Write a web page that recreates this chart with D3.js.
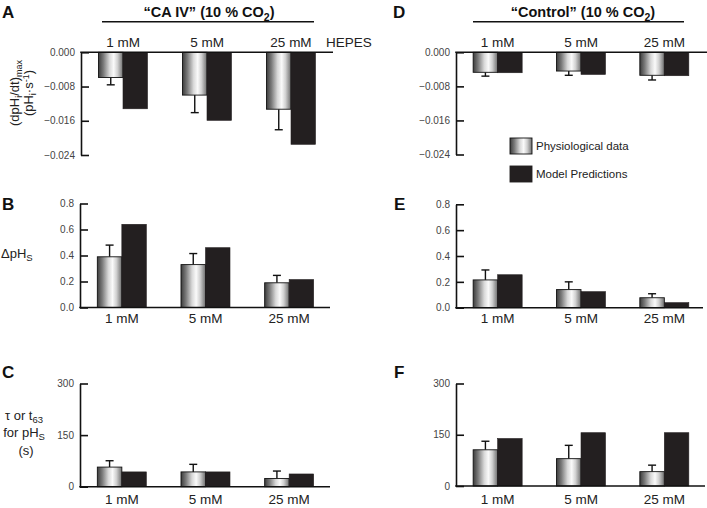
<!DOCTYPE html>
<html><head><meta charset="utf-8">
<script src="https://cdn.jsdelivr.net/npm/d3@7"></script>
<style>
html,body{margin:0;padding:0;background:#fff;}
svg{display:block;font-family:"Liberation Sans",Arial,Helvetica,sans-serif;}
</style></head>
<body><svg id="chart" width="707" height="508"></svg>
<script>
// ---- data ----
const categories = ["1 mM", "5 mM", "25 mM"];
const seriesNames = ["Physiological data", "Model Predictions"];
// Panel A: CA IV, (dpHi/dt)max
const A_phys = [-0.0059, -0.0100, -0.0133];
const A_physErr = [0.0017, 0.0041, 0.0048];
const A_model = [-0.0132, -0.0159, -0.0215];
// Panel D: Control, (dpHi/dt)max
const D_phys = [-0.0047, -0.0044, -0.0054];
const D_physErr = [0.0009, 0.0010, 0.0011];
const D_model = [-0.0048, -0.0052, -0.0055];
// Panel B: CA IV, ΔpHS
const B_phys = [0.39, 0.33, 0.19];
const B_physErr = [0.09, 0.085, 0.057];
const B_model = [0.64, 0.46, 0.215];
// Panel E: Control, ΔpHS
const E_phys = [0.215, 0.14, 0.077];
const E_physErr = [0.077, 0.06, 0.031];
const E_model = [0.255, 0.124, 0.039];
// Panel C: CA IV, tau
const C_phys = [57, 43, 24];
const C_physErr = [18.5, 22, 21.5];
const C_model = [43, 43, 37];
// Panel F: Control, tau
const F_phys = [106, 80, 42];
const F_physErr = [25, 39, 19];
const F_model = [139, 156, 156];
// ticks
const ticksDpH = [0, -0.008, -0.016, -0.024];
const ticksDelta = [0, 0.2, 0.4, 0.6, 0.8];
const ticksTau = [0, 150, 300];

const svg = d3.select("#chart");
const defs = svg.append("defs");
const grad = defs.append("linearGradient").attr("id","cyl").attr("x1","0%").attr("x2","100%").attr("y1","0%").attr("y2","0%");
[["0%","#3c3c3c"],["20%","#7a7a7a"],["45%","#d8d8d8"],["62%","#fafafa"],["78%","#d0d0d0"],["100%","#6e6e6e"]]
  .forEach(([o,c])=>grad.append("stop").attr("offset",o).attr("stop-color",c));

const BLACK = "#231f20";
const LABEL_SIZE = "13.5px";

function panel(opts){
  const {x0, x1, yTop, yBottom, domain, ticks, fmt, phys, err, model, negative, labelY} = opts;
  const g = svg.append("g");
  const x = d3.scaleBand().domain(categories).range([x0, x1]).padding(0);
  const sub = d3.scaleBand().domain(seriesNames).range([-24.5, 24.5]).padding(0);
  const y = d3.scaleLinear().domain(domain).range([yBottom, yTop]);
  const zeroY = y(0);
  const data = categories.map((c,i)=>({c, phys:phys[i], err:err[i], model:model[i]}));
  data.forEach(d=>{
    const cx = x(d.c) + x.bandwidth()/2;
    const px = cx + sub(seriesNames[0]);
    const pc = px + sub.bandwidth()/2;
    const py = y(d.phys);
    const ey = y(d.phys + (negative ? -d.err : d.err));
    g.append("line").attr("x1",pc).attr("x2",pc).attr("y1",py).attr("y2",ey).attr("stroke","#111").attr("stroke-width",1.4);
    g.append("line").attr("x1",pc-4).attr("x2",pc+4).attr("y1",ey).attr("y2",ey).attr("stroke","#111").attr("stroke-width",1.4);
    g.append("rect").attr("x",px).attr("width",sub.bandwidth())
      .attr("y",Math.min(py,zeroY)).attr("height",Math.abs(py-zeroY))
      .attr("fill","url(#cyl)").attr("stroke","#111").attr("stroke-width",0.9);
    const my = y(d.model);
    g.append("rect").attr("x",cx+sub(seriesNames[1])).attr("width",sub.bandwidth())
      .attr("y",Math.min(my,zeroY)).attr("height",Math.abs(my-zeroY))
      .attr("fill",BLACK).attr("stroke",BLACK).attr("stroke-width",0.6);
  });
  const ax = d3.axisLeft(y).tickValues(ticks).tickFormat(fmt).tickSizeInner(-8).tickSizeOuter(0).tickPadding(6);
  const ag = g.append("g").attr("transform",`translate(${x0},0)`).call(ax);
  ag.select(".domain").attr("stroke","#111").attr("stroke-width",1.6);
  ag.selectAll(".tick line").attr("stroke","#111").attr("stroke-width",1.6);
  ag.selectAll(".tick text").attr("fill","#444").style("font-size","10px").style("font-family","'Liberation Sans',Arial,sans-serif");
  g.append("line").attr("x1",x0-0.8).attr("x2",opts.lineEnd).attr("y1",zeroY).attr("y2",zeroY).attr("stroke","#111").attr("stroke-width",1.6);
  if (labelY !== undefined){
    categories.forEach(c=>{
      g.append("text").attr("x",x(c)+x.bandwidth()/2).attr("y",labelY).attr("text-anchor","middle")
        .style("font-size",LABEL_SIZE).attr("fill","#222").text(c);
    });
  }
  return {x,y};
}

const fmtDpH = d => d===0 ? "0.000" : "\u2212" + Math.abs(d).toFixed(3);
const fmt1 = d3.format(".1f");
const fmt0 = d3.format("d");

const L = {x0:81, x1:333};
const R = {x0:456, x1:706};

panel({x0:L.x0, x1:L.x1, lineEnd:333, yTop:155, yBottom:52.3, domain:[0,-0.024], ticks:ticksDpH, fmt:fmtDpH, phys:A_phys, err:A_physErr, model:A_model, negative:true, labelY:47});
panel({x0:R.x0, x1:R.x1, lineEnd:707, yTop:154.5, yBottom:52.3, domain:[0,-0.024], ticks:ticksDpH, fmt:fmtDpH, phys:D_phys, err:D_physErr, model:D_model, negative:true, labelY:47});
panel({x0:L.x0-1, x1:L.x1-2, lineEnd:330, yTop:203.5, yBottom:307.5, domain:[0,0.8], ticks:ticksDelta, fmt:fmt1, phys:B_phys, err:B_physErr, model:B_model, labelY:323});
panel({x0:R.x0, x1:R.x1, lineEnd:703, yTop:204.3, yBottom:307.7, domain:[0,0.8], ticks:ticksDelta, fmt:fmt1, phys:E_phys, err:E_physErr, model:E_model, labelY:323});
panel({x0:L.x0-1, x1:L.x1-2, lineEnd:330, yTop:383.5, yBottom:486.7, domain:[0,300], ticks:ticksTau, fmt:fmt0, phys:C_phys, err:C_physErr, model:C_model, labelY:504});
panel({x0:R.x0, x1:R.x1, lineEnd:705, yTop:383.5, yBottom:486, domain:[0,300], ticks:ticksTau, fmt:fmt0, phys:F_phys, err:F_physErr, model:F_model, labelY:504});

svg.append("text").attr("x",326).attr("y",47).style("font-size",LABEL_SIZE).attr("fill","#222").text("HEPES");

function title(cx, lineX1, lineX2, main){
  const t = svg.append("text").attr("x",cx).attr("y",17).attr("text-anchor","middle")
    .style("font-size","14.5px").style("font-weight","bold").attr("fill","#111");
  t.append("tspan").text(main + " (10 % CO");
  t.append("tspan").attr("dy",3.5).style("font-size","10.5px").text("2");
  t.append("tspan").attr("dy",-3.5).text(")");
  svg.append("line").attr("x1",lineX1).attr("x2",lineX2).attr("y1",21.7).attr("y2",21.7).attr("stroke","#111").attr("stroke-width",1.5);
}
title(209, 102, 314, "\u201CCA IV\u201D");
title(583, 473, 684, "\u201CControl\u201D");

[["A",2,18],["B",2,210],["C",2,378],["D",393,18],["E",394,210],["F",394,378]].forEach(([l,x,y])=>{
  svg.append("text").attr("x",x).attr("y",y).style("font-size","17px").style("font-weight","bold").attr("fill","#111").text(l);
});

const yl = svg.append("text").attr("transform","translate(19,93) rotate(-90)").attr("text-anchor","middle").style("font-size","13px").attr("fill","#222");
yl.append("tspan").text("(dpH");
yl.append("tspan").attr("dy",3).style("font-size","9px").text("i");
yl.append("tspan").attr("dy",-3).text("/dt)");
yl.append("tspan").attr("dy",3).style("font-size","9px").text("max");
const yl2 = svg.append("text").attr("transform","translate(33,93) rotate(-90)").attr("text-anchor","middle").style("font-size","13px").attr("fill","#222");
yl2.append("tspan").text("(pH");
yl2.append("tspan").attr("dy",3).style("font-size","9px").text("i");
yl2.append("tspan").attr("dy",-3).text("\u00B7s");
yl2.append("tspan").attr("dy",-4).style("font-size","9px").text("-1");
yl2.append("tspan").attr("dy",4).text(")");

const bl = svg.append("text").attr("x",1).attr("y",258).style("font-size","13px").attr("fill","#222");
bl.append("tspan").text("\u0394pH");
bl.append("tspan").attr("dy",3).style("font-size","9.5px").text("S");

const c1 = svg.append("text").attr("x",24).attr("y",420).attr("text-anchor","middle").style("font-size","13px").attr("fill","#222");
c1.append("tspan").text("\u03C4 or t");
c1.append("tspan").attr("dy",3).style("font-size","9.5px").text("63");
const c2 = svg.append("text").attr("x",24).attr("y",437).attr("text-anchor","middle").style("font-size","13px").attr("fill","#222");
c2.append("tspan").text("for pH");
c2.append("tspan").attr("dy",3).style("font-size","9.5px").text("S");
svg.append("text").attr("x",26).attr("y",455).attr("text-anchor","middle").style("font-size","13px").attr("fill","#222").text("(s)");

const leg = svg.append("g");
seriesNames.forEach((s,i)=>{
  const yy = 138 + i*28;
  leg.append("rect").attr("x",510).attr("y",yy).attr("width",22).attr("height",16)
    .attr("fill", i===0 ? "url(#cyl)" : BLACK).attr("stroke", i===0 ? "#111" : BLACK).attr("stroke-width",0.9);
  leg.append("text").attr("x",536).attr("y",yy+12).style("font-size","11.5px").attr("fill","#222").text(s);
});
</script></body></html>
